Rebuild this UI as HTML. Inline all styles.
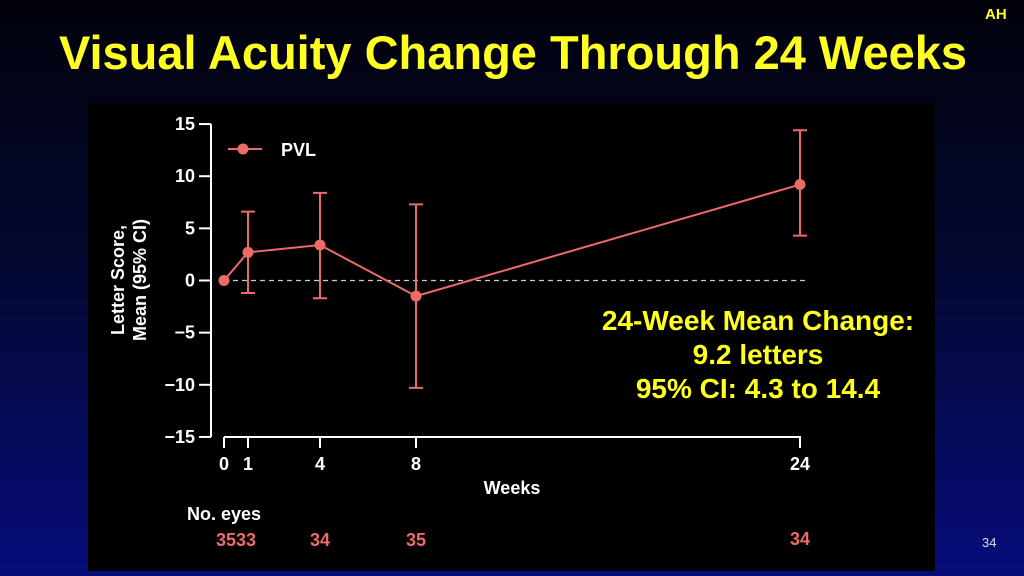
<!DOCTYPE html>
<html><head><meta charset="utf-8"><style>
html,body{margin:0;padding:0}
body{width:1024px;height:576px;overflow:hidden;background:linear-gradient(to bottom,#02020c 0%,#040830 45%,#060c7a 100%);font-family:"Liberation Sans",sans-serif;position:relative}
.t{position:absolute;font-weight:bold}
</style></head><body>
<div class="t" style="left:985px;top:6px;font-size:15px;color:#ffff33">AH</div>
<div class="t" style="left:0;width:1026px;text-align:center;top:25px;font-size:47px;color:#ffff22;white-space:nowrap">Visual Acuity Change Through 24 Weeks</div>
<div style="position:absolute;left:88px;top:103px;width:847px;height:468px;background:#000"></div>
<div style="position:absolute;left:982px;top:535px;font-size:13px;color:#ddd">34</div>
<svg width="1024" height="576" style="position:absolute;left:0;top:0" id="chart" font-family="Liberation Sans, sans-serif"></svg>
<script>
const weeks=[0,1,4,8,24];
const means=[0,2.7,3.4,-1.5,9.2];
const lower=[0,-1.2,-1.7,-10.3,4.3];
const upper=[0,6.6,8.4,7.3,14.4];
const yTicks=[15,10,5,0,-5,-10,-15];
const yTickLabels=["15","10","5","0","\u22125","\u221210","\u221215"];
const eyeCounts=["3533","34","35","34"];
const eyeWeeks=[0.5,4,8,24];
const xS=w=>224+24*w;
const yS=v=>280.5-v*10.43;
const C='#ec6b66';
const svg=document.getElementById('chart');
const NS='http://www.w3.org/2000/svg';
function mk(tag,a,txt){const e=document.createElementNS(NS,tag);for(const k in a)e.setAttribute(k,a[k]);if(txt!==undefined)e.textContent=txt;svg.appendChild(e);return e;}
let e;
e=mk('line',{x1:211,y1:yS(15),x2:211,y2:yS(-15),stroke:'#fff','stroke-width':2});

yTicks.forEach((v,i)=>{
 e=mk('line',{x1:199,x2:211,y1:yS(v),y2:yS(v),stroke:'#fff','stroke-width':2});
 
 e=mk('text',{x:195,y:yS(v)+6,'text-anchor':'end','font-size':18,'font-weight':'bold',fill:'#fff'},yTickLabels[i]);
 
});
e=mk('text',{transform:'translate(124,280) rotate(-90)','text-anchor':'middle','font-size':18,'font-weight':'bold',fill:'#fff'});

e.innerHTML='<tspan x="0" dy="0">Letter Score,</tspan><tspan x="0" dy="22">Mean (95% CI)</tspan>';
e=mk('line',{x1:xS(0),x2:xS(24)+1,y1:437,y2:437,stroke:'#fff','stroke-width':2});

weeks.forEach((w,i)=>{
 e=mk('line',{x1:xS(w),x2:xS(w),y1:437,y2:448,stroke:'#fff','stroke-width':2});
 
 e=mk('text',{x:xS(w),y:470,'text-anchor':'middle','font-size':18,'font-weight':'bold',fill:'#fff'},String(w));
 
});
e=mk('text',{x:512,y:494,'text-anchor':'middle','font-size':18,'font-weight':'bold',fill:'#fff'},'Weeks');

e=mk('text',{x:224,y:520,'text-anchor':'middle','font-size':18,'font-weight':'bold',fill:'#fff'},'No. eyes');

eyeCounts.forEach((n,i)=>{
 e=mk('text',{x:xS(eyeWeeks[i]),y:i==3?545:546,'text-anchor':'middle','font-size':18,'font-weight':'bold',fill:C},n);
 
});
e=mk('line',{x1:xS(0),x2:805,y1:yS(0),y2:yS(0),stroke:'#ccc','stroke-width':1.2,'stroke-dasharray':'5,4'});

weeks.forEach((w,i)=>{
 if(upper[i]===lower[i])return;
 const x=xS(w);
 e=mk('path',{d:`M${x},${yS(upper[i])}V${yS(lower[i])}M${x-7},${yS(upper[i])}H${x+7}M${x-7},${yS(lower[i])}H${x+7}`,stroke:C,'stroke-width':2,fill:'none'});
 
});
e=mk('polyline',{points:weeks.map((w,i)=>xS(w)+','+yS(means[i])).join(' '),stroke:C,'stroke-width':2,fill:'none'});

weeks.forEach((w,i)=>{
 e=mk('circle',{cx:xS(w),cy:yS(means[i]),r:5.5,fill:C});
 
});
e=mk('line',{x1:228,x2:262,y1:149,y2:149,stroke:C,'stroke-width':2});

e=mk('circle',{cx:243,cy:149,r:5.5,fill:C});

e=mk('text',{x:281,y:156,'font-size':18,'font-weight':'bold',fill:'#fff'},'PVL');

const ann=["24-Week Mean Change:","9.2 letters","95% CI: 4.3 to 14.4"];
ann.forEach((s,i)=>{
 e=mk('text',{x:758,y:330+i*34,'text-anchor':'middle','font-size':28,'font-weight':'bold',fill:'#ffff22'},s);
 
});
</script>
</body></html>
